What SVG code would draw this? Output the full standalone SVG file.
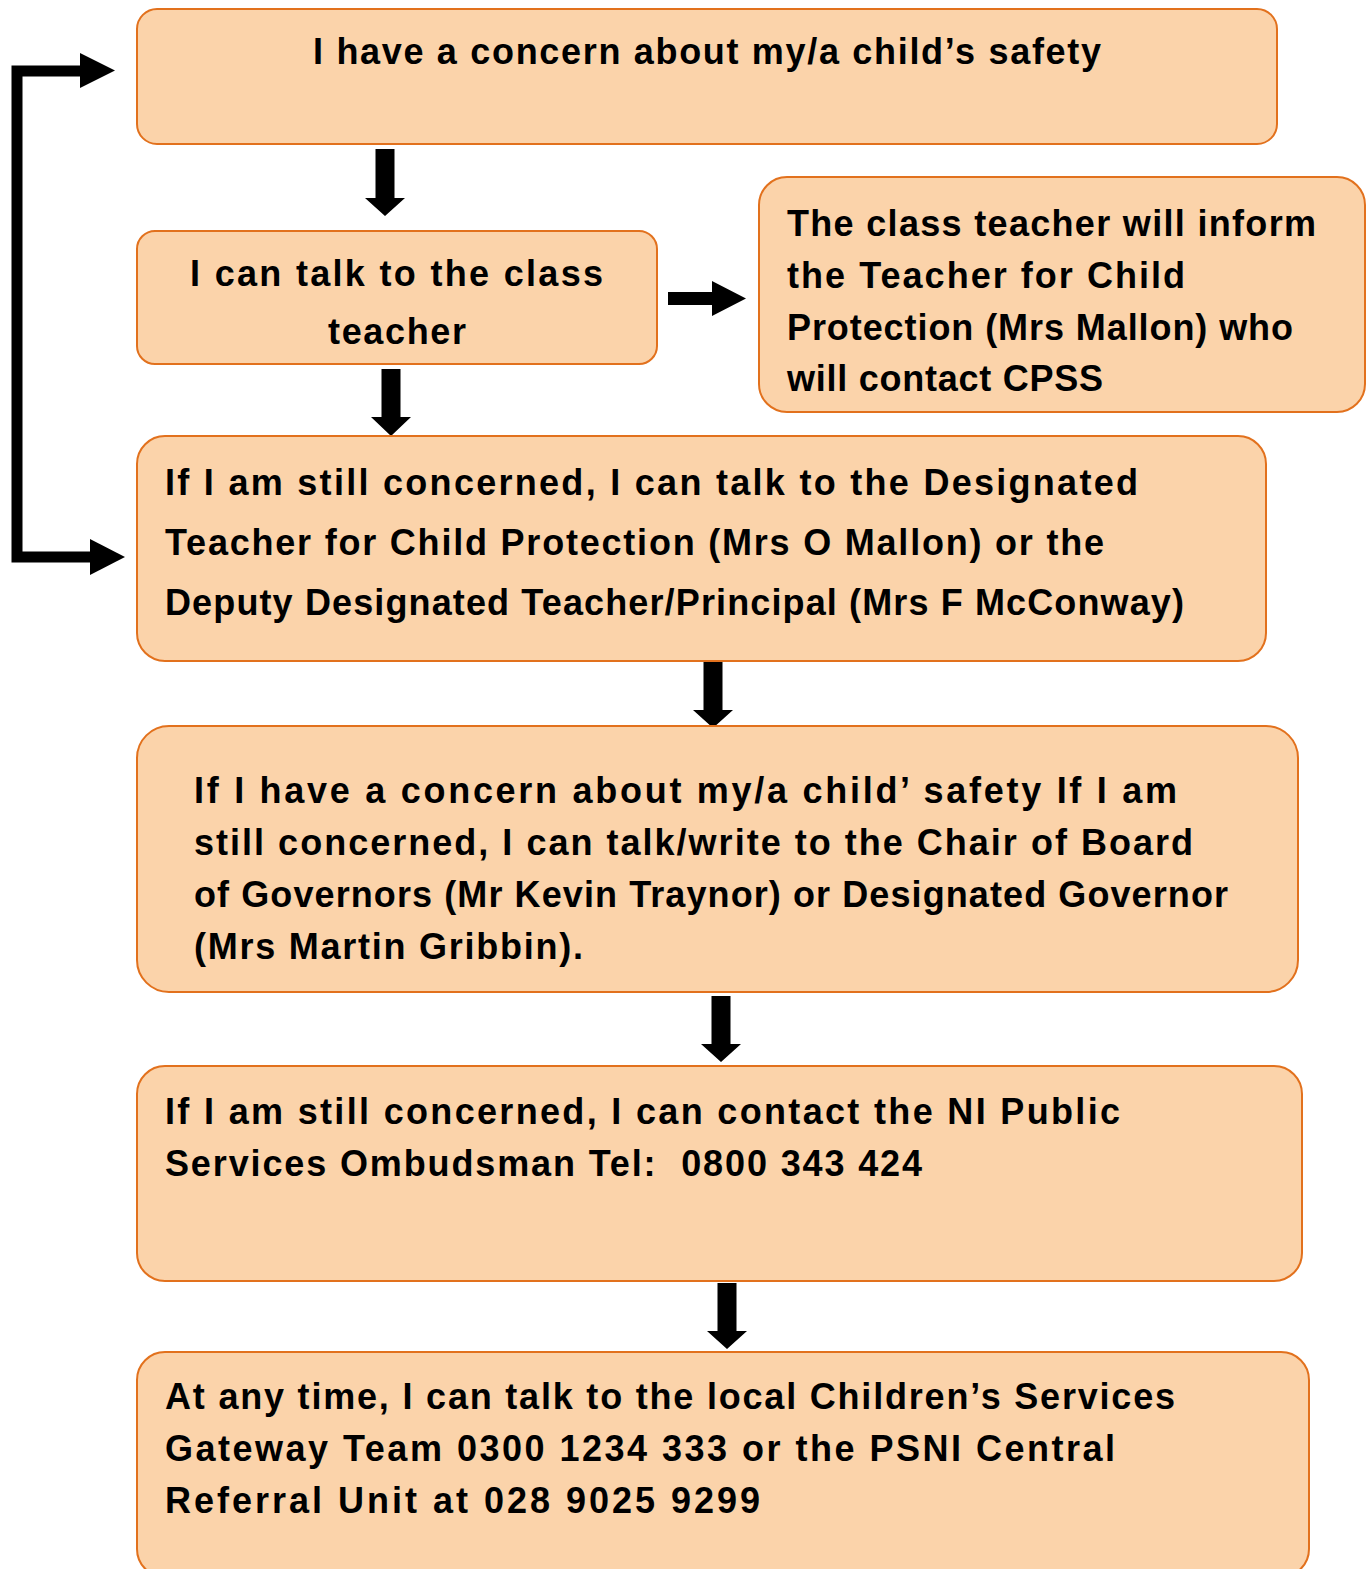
<svg xmlns="http://www.w3.org/2000/svg" width="1372" height="1569" viewBox="0 0 1372 1569">
<style>
.box{fill:#FBD3AA;stroke:#E2711D;stroke-width:2}
.t{font-family:"Comic Sans MS","Liberation Sans","DejaVu Sans",sans-serif;font-weight:bold;font-size:36px;fill:#000}
.arr{fill:#000}
</style>
<rect width="1372" height="1569" fill="#fff"/>
<g id="connectors">
<polygon class="arr" points="375.5,149 394.5,149 394.5,198 405,198 385,216 365,198 375.5,198"/>
<polygon class="arr" points="381.5,369 400.5,369 400.5,417 411,417 391,436 371,417 381.5,417"/>
<polygon class="arr" points="668,292 712,292 712,281 746,298.5 712,316 712,305 668,305"/>
<polygon class="arr" points="703.5,661 722.5,661 722.5,710 733,710 713,728 693,710 703.5,710"/>
<polygon class="arr" points="711.5,996 730.5,996 730.5,1044 741,1044 721,1062 701,1044 711.5,1044"/>
<polygon class="arr" points="717.5,1283 736.5,1283 736.5,1331 747,1331 727,1349 707,1331 717.5,1331"/>
<polyline points="82,71 17,71 17,557 92,557" fill="none" stroke="#000" stroke-width="11"/>
<polygon class="arr" points="80,53 115,70.5 80,88"/>
<polygon class="arr" points="90,539 125,557 90,575"/>
</g>
<g id="node1">
<rect class="box" x="137" y="9" width="1140" height="135" rx="20"/>
<text class="t" x="313" y="64" textLength="788">I have a concern about my/a child’s safety</text>
</g>
<g id="node2">
<rect class="box" x="137" y="231" width="520" height="133" rx="18"/>
<text class="t" x="190" y="286" textLength="413">I can talk to the class</text>
<text class="t" x="328" y="344" textLength="138">teacher</text>
</g>
<g id="node3">
<rect class="box" x="759" y="177" width="606" height="235" rx="28"/>
<text class="t" x="787" y="236" textLength="529">The class teacher will inform</text>
<text class="t" x="787" y="288" textLength="398">the Teacher for Child</text>
<text class="t" x="787" y="340" textLength="506">Protection (Mrs Mallon) who</text>
<text class="t" x="787" y="391" textLength="316">will contact CPSS</text>
</g>
<g id="node4">
<rect class="box" x="137" y="436" width="1129" height="225" rx="28"/>
<text class="t" x="165" y="495" textLength="973">If I am still concerned, I can talk to the Designated</text>
<text class="t" x="165" y="555" textLength="939">Teacher for Child Protection (Mrs O Mallon) or the</text>
<text class="t" x="165" y="615" textLength="1019">Deputy Designated Teacher/Principal (Mrs F McConway)</text>
</g>
<g id="node5">
<rect class="box" x="137" y="726" width="1161" height="266" rx="32"/>
<text class="t" x="194" y="803" textLength="983">If I have a concern about my/a child’ safety If I am</text>
<text class="t" x="194" y="855" textLength="999">still concerned, I can talk/write to the Chair of Board</text>
<text class="t" x="194" y="907" textLength="1034">of Governors (Mr Kevin Traynor) or Designated Governor</text>
<text class="t" x="194" y="959" textLength="389">(Mrs Martin Gribbin).</text>
</g>
<g id="node6">
<rect class="box" x="137" y="1066" width="1165" height="215" rx="28"/>
<text class="t" x="165" y="1124" textLength="955">If I am still concerned, I can contact the NI Public</text>
<text class="t" x="165" y="1176" textLength="757" xml:space="preserve">Services Ombudsman Tel:  0800 343 424</text>
</g>
<g id="node7">
<rect class="box" x="137" y="1352" width="1172" height="225" rx="28"/>
<text class="t" x="165" y="1409" textLength="1010">At any time, I can talk to the local Children’s Services</text>
<text class="t" x="165" y="1461" textLength="950">Gateway Team 0300 1234 333 or the PSNI Central</text>
<text class="t" x="165" y="1513" textLength="595">Referral Unit at 028 9025 9299</text>
</g>
</svg>
